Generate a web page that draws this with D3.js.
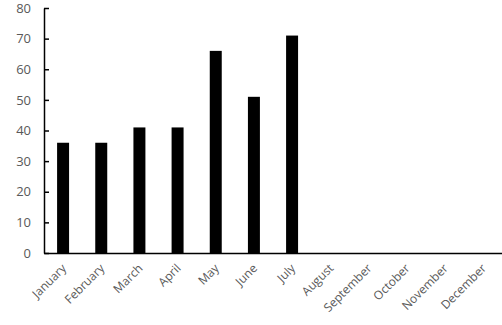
<!DOCTYPE html>
<html lang="en">
<head>
<meta charset="UTF-8">
<style>
    body { margin: 0; background: #fff; }
    svg text { font-family: "Open Sans", "Liberation Sans", sans-serif; fill: #595959; }
</style>
</head>
<body>
<svg id="chart"></svg>
<script src="https://cdnjs.cloudflare.com/ajax/libs/d3/7.8.5/d3.min.js"></script>
<script>
    const months = ["January", "February", "March", "April", "May", "June", "July",
        "August", "September", "October", "November", "December"];
    const values = [36, 36, 41, 41, 66, 51, 71, null, null, null, null, null];
    const yTicks = [0, 10, 20, 30, 40, 50, 60, 70, 80];

    const width = 502, height = 325;
    const margin = {left: 44, right: 0, top: 8, bottom: 72};

    const svg = d3.select("#chart")
        .attr("width", width)
        .attr("height", height);

    const x = d3.scaleBand()
        .domain(months)
        .range([margin.left, width - margin.right])
        .paddingInner(0.686)
        .paddingOuter(0.343);

    const y = d3.scaleLinear()
        .domain([0, 80])
        .range([height - margin.bottom, margin.top]);

    // bars
    svg.append("g")
        .selectAll("rect")
        .data(months.map((m, i) => ({month: m, value: values[i]})).filter(d => d.value != null))
        .join("rect")
        .attr("x", d => x(d.month))
        .attr("y", d => y(d.value))
        .attr("width", x.bandwidth())
        .attr("height", d => y(0) - y(d.value))
        .attr("fill", "#000");

    // y axis
    const yAxis = svg.append("g")
        .attr("transform", `translate(${margin.left},0)`)
        .call(d3.axisRight(y).tickValues(yTicks).tickSize(5).tickSizeOuter(0));
    yAxis.select(".domain").attr("stroke", "#000").attr("stroke-width", 1.5);
    yAxis.selectAll(".tick line").attr("stroke", "#000").attr("stroke-width", 1.5);
    yAxis.selectAll(".tick text")
        .attr("x", -13)
        .attr("text-anchor", "end")
        .attr("font-size", 13);

    // x axis baseline
    const xAxis = svg.append("g")
        .attr("transform", `translate(0,${y(0)})`)
        .call(d3.axisBottom(x).tickSize(0).tickSizeOuter(0));
    xAxis.select(".domain").attr("stroke", "#000").attr("stroke-width", 1.5);
    xAxis.selectAll(".tick text")
        .attr("font-size", 12)
        .attr("text-anchor", "end")
        .attr("dy", 0)
        .attr("y", 0)
        .attr("transform", "translate(4,16) rotate(-45)");
</script>
</body>
</html>
